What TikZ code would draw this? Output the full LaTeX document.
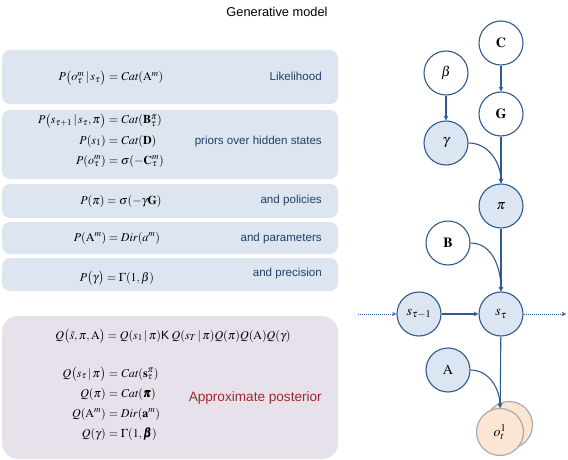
\documentclass[tikz,border=0pt]{standalone}
\usepackage{amsmath}
\usepackage{mathptmx}
\usepackage{bm}
\usepackage{fontspec}
\setmainfont{Liberation Serif}
\newfontfamily\labelfont{Liberation Sans}
\usetikzlibrary{positioning,arrows,calc}
\definecolor{boxblue}{HTML}{DCE5F0}
\definecolor{boxlilac}{HTML}{E7E1EC}
\definecolor{nodeblue}{HTML}{DCE6F2}
\definecolor{edgeblue}{HTML}{2F5A8F}
\definecolor{labelblue}{HTML}{243F6B}
\definecolor{postred}{HTML}{A3282B}
\definecolor{obspeach}{HTML}{FBE5D3}
\tikzstyle{panel} = [rounded corners=8pt, fill=boxblue]
\tikzstyle{var} = [circle, draw=edgeblue, fill=nodeblue, line width=1.1pt, minimum size=44pt, inner sep=0pt, font=\fontsize{14}{16}\selectfont]
\tikzstyle{hyper} = [var, fill=white]
\tikzstyle{obs} = [var, draw=gray!70, fill=obspeach, minimum size=47pt]
\tikzstyle{arrow} = [line width=1.1pt, draw=edgeblue, ->, >=stealth]
\tikzstyle{eq} = [inner sep=0pt, font=\fontsize{12}{14}\selectfont]
\tikzstyle{tag} = [inner sep=0pt, anchor=base east, text=labelblue, font=\labelfont\fontsize{11.6}{14}\selectfont]

\begin{document}
\begin{tikzpicture}[x=1pt, y=-1pt]
        \useasboundingbox (0,0) rectangle (568,460);
        \node[inner sep=0pt, anchor=base, font=\labelfont\fontsize{12.8}{15}\selectfont] (title) at (277,17) {Generative model};
        % panels
        \fill[panel] (2,50) rectangle (338,104);
        \fill[panel] (2,110) rectangle (338,179);
        \fill[panel] (2,184) rectangle (338,218);
        \fill[panel] (2,222) rectangle (338,254);
        \fill[panel] (2,258) rectangle (338,291);
        \fill[panel, rounded corners=16pt, fill=boxlilac] (2,316) rectangle (338,459);
        % generative model
        \node[eq, anchor=base east] (lik-l) at (106,81) {$P\bigl(o^m_\tau\,|\,s_\tau\bigr)$};
        \node[eq, anchor=base west] (lik-r) at (lik-l.base east) {${}=\mathit{Cat}(\mathrm{A}^m)$};
        \foreach \n/\y/\lhs/\rhs in {1/124/{P\bigl(s_{\tau+1}\,|\,s_\tau,\pi\bigr)}/{\mathit{Cat}(\mathbf{B}^\pi_\tau)},
                                     2/144/{P(s_1)}/{\mathit{Cat}(\mathbf{D})},
                                     3/164/{P(o^m_\tau)}/{\sigma(-\mathbf{C}^m_\tau)}}{
          \node[eq, anchor=base east] (pr\n-l) at (106,\y) {$\lhs$};
          \node[eq, anchor=base west] (pr\n-r) at (pr\n-l.base east) {${}=\rhs$};
        }
        \node[eq, anchor=base] (pol) at (121,204) {$P(\pi)=\sigma(-\gamma\mathbf{G})$};
        \node[eq, anchor=base] (par) at (117,241) {$P(\mathrm{A}^m)=\mathit{Dir}(a^m)$};
        \node[eq, anchor=base] (prec) at (117,281) {$P\bigl(\gamma\bigr)=\Gamma(1,\beta)$};
        \node[tag] (lik-tag) at (322,81) {Likelihood};
        \node[tag] (pr-tag) at (322,144) {priors over hidden states};
        \node[tag] (pol-tag) at (322,203) {and policies};
        \node[tag] (par-tag) at (322,241) {and parameters};
        \node[tag] (prec-tag) at (322,276) {and precision};
        % approximate posterior
        \node[eq, anchor=base] (joint) at (173,339) {$Q\bigl(\tilde{s},\pi,\mathrm{A}\bigr)=Q(s_1\,|\,\pi)\text{\labelfont K}\;Q(s_T\,|\,\pi)Q(\pi)Q(\mathrm{A})Q(\gamma)$};
        \foreach \n/\y/\lhs/\rhs in {1/377/{Q\bigl(s_\tau\,|\,\pi\bigr)}/{\mathit{Cat}(\mathbf{s}^\pi_\tau)},
                                     2/397/{Q(\pi)}/{\mathit{Cat}(\bm{\pi})},
                                     3/417/{Q(\mathrm{A}^m)}/{\mathit{Dir}(\mathbf{a}^m)},
                                     4/437/{Q(\gamma)}/{\Gamma(1,\bm{\beta})}}{
          \node[eq, anchor=base east] (q\n-l) at (106,\y) {$\lhs$};
          \node[eq, anchor=base west] (q\n-r) at (q\n-l.base east) {${}=\rhs$};
        }
        \node[tag, text=postred, font=\labelfont\fontsize{13.6}{16}\selectfont] (post-tag) at (322,401) {Approximate posterior};
        % graph
        \node[hyper] (C) at (501,43) {$\mathbf{C}$};
        \node[hyper] (beta) at (446,73) {$\beta$};
        \node[hyper] (G) at (501,114) {$\mathbf{G}$};
        \node[var] (gamma) at (446,143) {$\gamma$};
        \node[var] (pi) at (501,206) {$\pi$};
        \node[hyper] (B) at (448,243) {$\mathbf{B}$};
        \node[var] (sprev) at (419,314) {$s_{\tau-1}$};
        \node[var] (s) at (501,314) {$s_\tau$};
        \node[var] (A) at (448,370) {$\mathrm{A}$};
        \node[obs] (oback) at (509,425) {};
        \node[obs] (o) at (500,432) {$o^1_t$};
        \coordinate (past) at (358,314);
        \coordinate (future) at (566,314);
        \draw[arrow] (C) -- (G);
        \draw[arrow] (beta) -- (gamma);
        \draw[arrow] (G) -- (pi);
        \draw[arrow] (gamma.east) to[out=0, in=90] (pi.north);
        \draw[arrow] (pi) -- (s);
        \draw[arrow] (B.east) to[out=0, in=90] (s.north);
        \draw[arrow] (sprev) -- (s);
        \draw[arrow] (s) -- (o);
        \draw[arrow] (A.east) to[out=0, in=90] (o.north);
        \draw[arrow, line width=0.9pt, dash pattern=on 1pt off 1pt] (past) -- (sprev);
        \draw[arrow, line width=0.9pt, dash pattern=on 1pt off 1pt] (s) -- (future);
\end{tikzpicture}
\end{document}
